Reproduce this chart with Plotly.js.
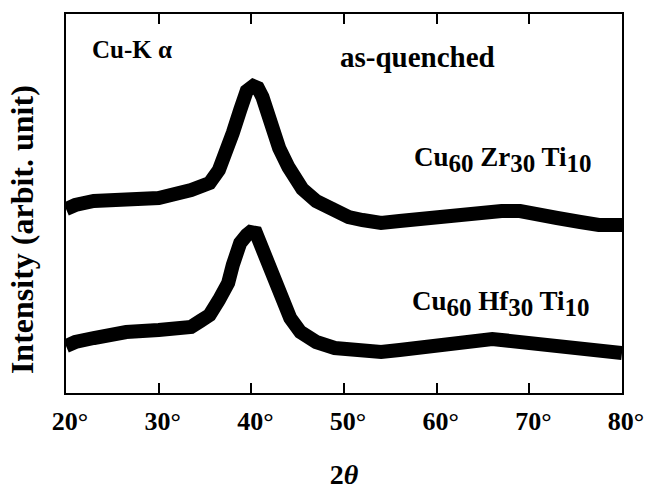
<!DOCTYPE html>
<html>
<head>
<meta charset="utf-8">
<script src="https://cdn.plot.ly/plotly-3.0.1.min.js"></script>
<style>html,body{margin:0;padding:0;background:#fff;}#chart{width:646px;height:490px;}</style>
</head>
<body>
<div id="chart"></div>
<script>
// 2θ (degrees) and intensity (arbitrary units)
const twoThetaZr = [20, 21, 23, 26.5, 30, 33.5, 34.5, 35.5, 36.5, 37.5, 38, 38.8, 39.5, 40.2, 40.7, 41.2, 41.7, 42.4, 43, 44, 45.5, 47, 49, 50.5, 52, 54, 56, 58.5, 61, 64, 67, 69, 71, 73, 75.5, 77.5, 80];
const intensityZr = [184, 188, 192, 192, 195, 203, 206, 210, 223, 243, 260, 283, 302, 307, 305, 296, 278, 258, 245, 226, 204, 192, 181, 176, 173, 170, 172, 175, 178, 181, 182, 182, 177, 175, 171, 168, 168];

const twoThetaHf = [20, 21, 23, 26.5, 30, 33.5, 34.5, 35.5, 36.5, 37.5, 38, 38.8, 39.5, 39.9, 40.5, 41.2, 41.9, 43, 44.2, 45.3, 47, 49, 50.5, 52, 54, 56, 58.5, 61, 64, 66, 67, 69, 71, 73, 75.5, 77.5, 80];
const intensityHf = [47, 51, 55, 61, 63, 66, 72, 78, 93, 110, 128, 150, 158, 161, 160, 143, 125, 96, 75, 61, 51, 45, 43, 42, 41, 43, 46, 48, 53, 54, 53, 51, 48, 46, 44, 42, 40];

const tickVals = [20, 30, 40, 50, 60, 70, 80];
const tickLabels = ["20°", "30°", "40°", "50°", "60°", "70°", "80°"];

const FONT = "Liberation Serif";
const lineStyle = {color: "#000", width: 14, shape: "linear"};

const traces = [
  {x: twoThetaZr, y: intensityZr, mode: "lines", line: lineStyle, name: "Cu60Zr30Ti10"},
  {x: twoThetaHf, y: intensityHf, mode: "lines", line: lineStyle, name: "Cu60Hf30Ti10"}
];

const b = s => "<b>" + s + "</b>";
const sub = s => '<sub><span style="font-size:25px">' + s + '</span></sub>';

const layout = {
  width: 646, height: 490,
  margin: {l: 66, r: 24, t: 14, b: 97},
  paper_bgcolor: "#fff", plot_bgcolor: "#fff",
  showlegend: false,
  font: {family: FONT, color: "#000", size: 24},
  xaxis: {
    range: [20, 80], tickvals: tickVals, ticktext: tickLabels.map(b),
    ticks: "inside", ticklen: 10, tickwidth: 2, tickcolor: "#000",
    showline: true, linewidth: 2, linecolor: "#000", mirror: "ticks",
    showgrid: false, zeroline: false,
    tickfont: {family: FONT, size: 26, color: "#000"},
    ticklabelstandoff: 4, ticklabelshift: 4,
    title: {text: b("2<i>θ</i>"), font: {family: FONT, size: 28, color: "#000"}, standoff: 32}
  },
  yaxis: {
    range: [0, 379], showticklabels: false, ticks: "",
    showline: true, linewidth: 2, linecolor: "#000", mirror: true,
    showgrid: false, zeroline: false
  },
  annotations: [
    {xref: "paper", yref: "paper", x: -0.079, y: 0.43, xanchor: "center", yanchor: "middle",
     text: b("Intensity (arbit. unit)"), textangle: -90, showarrow: false,
     font: {family: FONT, size: 32, color: "#000"}},
    {xref: "paper", yref: "paper", x: 0.044, y: 0.907, xanchor: "left", yanchor: "middle",
     text: b("Cu-K α"), showarrow: false, font: {family: FONT, size: 25, color: "#000"}},
    {xref: "paper", yref: "paper", x: 0.49, y: 0.887, xanchor: "left", yanchor: "middle",
     text: b("as-quenched"), showarrow: false, font: {family: FONT, size: 29, color: "#000"}},
    {xref: "paper", yref: "paper", x: 0.622, y: 0.615, xanchor: "left", yanchor: "middle",
     text: b("Cu" + sub("60") + " Zr" + sub("30") + " Ti" + sub("10")), showarrow: false,
     font: {family: FONT, size: 27, color: "#000"}},
    {xref: "paper", yref: "paper", x: 0.618, y: 0.235, xanchor: "left", yanchor: "middle",
     text: b("Cu" + sub("60") + " Hf" + sub("30") + " Ti" + sub("10")), showarrow: false,
     font: {family: FONT, size: 27, color: "#000"}}
  ]
};

Plotly.newPlot("chart", traces, layout, {displayModeBar: false, staticPlot: true});
</script>
</body>
</html>
